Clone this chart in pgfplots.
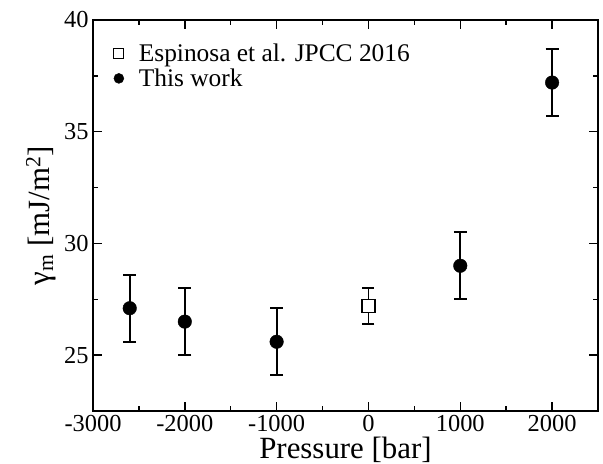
\documentclass[border=0pt]{standalone}
\usepackage{fontspec}
\setmainfont{Liberation Serif}
\usepackage{pgfplots}
\pgfplotsset{compat=1.18}
\begin{document}
\begin{tikzpicture}
\begin{axis}[%
  scale only axis,
  width=505bp, height=391bp,
  xmin=-3000, xmax=2500, ymin=22.5, ymax=40,
  xtick={-3000,-2000,...,2000}, minor x tick num=1,
  ytick={25,30,35,40}, minor y tick num=1,
  tick align=inside,
  major tick length=9bp, minor tick length=5bp,
  axis line style={line width=2bp},
  every tick/.append style={line width=1.5bp, black},
  tick label style={font=\fontsize{24.5}{26}\selectfont},
  xticklabel style={yshift=-1bp},
  yticklabel style={xshift=-1bp},
  /pgf/number format/assume math mode=true,
  /pgf/number format/1000 sep={},
  xlabel={Pressure [bar]},
  ylabel={γ\textsubscript{m} [mJ/m\textsuperscript{2}]},
  label style={font=\fontsize{31}{33}\selectfont},
  xlabel style={at={(axis description cs:0.5,-0.1)}, anchor=center, inner sep=0pt},
  ylabel style={at={(axis description cs:-0.103,0.5)}, anchor=center},
  legend style={draw=none, fill=none, at={(axis description cs:0.035,0.95)}, anchor=north west,
    font=\fontsize{25.5}{27}\selectfont, row sep=2bp, column sep=13bp},
  legend cell align=left,
  legend image post style={mark size=5bp},
]
% reference value
\addplot[only marks, mark=square*, mark size=6.5bp, mark options={fill=white, draw=black, line width=1.2bp},
  error bars/.cd, y dir=both, y explicit,
  error bar style={line width=1.8bp, black},
  error mark options={rotate=90, mark size=6bp, line width=1.8bp, black}]
  coordinates {(0,27.2) +- (0,0.8)};
\addlegendentry{Espinosa et al. JPCC 2016}
% this work
\addplot[only marks, mark=*, mark size=6.8bp, black,
  error bars/.cd, y dir=both, y explicit,
  error bar style={line width=1.8bp, black},
  error mark options={rotate=90, mark size=6.5bp, line width=1.8bp, black}]
  coordinates {
  (-2600,27.1) +- (0,1.5)
  (-2000,26.5) +- (0,1.5)
  (-1000,25.6) +- (0,1.5)
  (1000,29.0) +- (0,1.5)
  (2000,37.2) +- (0,1.5)
};
\addlegendentry{This work}
\end{axis}
\pgfresetboundingbox
\path (-93bp,-53bp) rectangle (510bp,411bp);
\end{tikzpicture}
\end{document}
